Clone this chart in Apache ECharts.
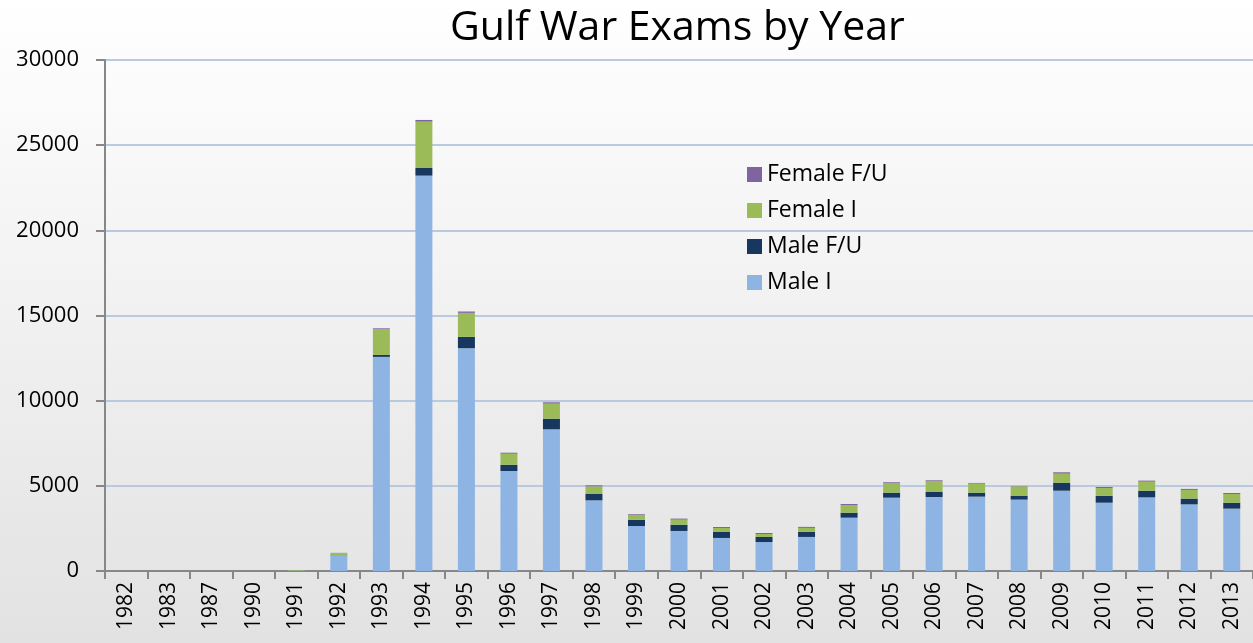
<!DOCTYPE html>
<html>
<head>
<meta charset="utf-8">
<script src="https://cdn.jsdelivr.net/npm/echarts@6/dist/echarts.min.js"></script>
<style>
  html, body { margin: 0; padding: 0; }
  #chart { width: 1253px; height: 643px; }
</style>
</head>
<body>
<div id="chart"></div>
<script>
// 年份
const years = ['1982', '1983', '1987', '1990', '1991', '1992', '1993', '1994', '1995', '1996',
  '1997', '1998', '1999', '2000', '2001', '2002', '2003', '2004', '2005', '2006',
  '2007', '2008', '2009', '2010', '2011', '2012', '2013']

// 各类检查人数
const maleI = [0, 0, 0, 0, 20, 900, 12570, 23210, 13080, 5870, 8320, 4150, 2640, 2350, 1940, 1700,
  2000, 3130, 4305, 4345, 4365, 4190, 4715, 4010, 4325, 3915, 3660]
const maleFU = [0, 0, 0, 0, 0, 15, 115, 450, 665, 370, 625, 370, 370, 370, 350, 295,
  295, 295, 295, 295, 235, 215, 470, 410, 390, 335, 350]
const femaleI = [0, 0, 0, 0, 30, 140, 1525, 2720, 1410, 645, 880, 450, 295, 295, 235, 175,
  235, 450, 550, 625, 530, 570, 530, 450, 530, 510, 510]
const femaleFU = [0, 0, 0, 0, 0, 10, 40, 100, 80, 60, 80, 60, 40, 60, 60, 60,
  60, 60, 60, 60, 40, 20, 80, 60, 60, 60, 60]

const legendNames = ['Female F/U', 'Female I', 'Male F/U', 'Male I']

const font = '"Open Sans", "Liberation Sans", sans-serif'

const chart = echarts.init(document.getElementById('chart'))

const makeSeries = (name, data, color) => ({
  name,
  type: 'bar',
  stack: 'total',
  barWidth: 17,
  data,
  itemStyle: { color }
})

const option = {
  backgroundColor: {
    type: 'linear', x: 0, y: 0, x2: 0, y2: 1,
    colorStops: [
      { offset: 0, color: '#ffffff' },
      { offset: 1, color: '#e2e2e2' }
    ]
  },
  title: {
    text: 'Gulf War Exams by Year',
    left: 445,
    top: 3,
    textStyle: { fontFamily: font, fontSize: 41, fontWeight: 'normal', color: '#000' }
  },
  legend: {
    data: legendNames,
    orient: 'vertical',
    left: 742,
    top: 158,
    itemWidth: 15,
    itemHeight: 15,
    itemGap: 13,
    icon: 'rect',
    textStyle: { fontFamily: font, fontSize: 23, color: '#000', lineHeight: 23 }
  },
  grid: {
    left: 105,
    right: -4,
    top: 60,
    bottom: 72
  },
  xAxis: {
    type: 'category',
    data: years,
    axisLine: { lineStyle: { color: '#878787', width: 2 } },
    axisTick: { show: true, length: 8, lineStyle: { color: '#878787', width: 2 } },
    axisLabel: {
      interval: 0,
      rotate: 90,
      margin: 11,
      fontFamily: font,
      fontSize: 21,
      color: '#000'
    }
  },
  yAxis: {
    type: 'value',
    min: 0,
    max: 30000,
    interval: 5000,
    axisLine: { show: true, lineStyle: { color: '#878787', width: 2 } },
    axisTick: { show: true, length: 9, lineStyle: { color: '#878787', width: 2 } },
    axisLabel: {
      margin: 26,
      fontFamily: font,
      fontSize: 22,
      color: '#000',
      formatter: (v) => String(v)
    },
    splitLine: { lineStyle: { color: '#b9cadf', width: 2 } }
  },
  series: [
    makeSeries('Male I', maleI, '#8eb4e3'),
    makeSeries('Male F/U', maleFU, '#17375e'),
    makeSeries('Female I', femaleI, '#9bbb59'),
    makeSeries('Female F/U', femaleFU, '#8064a2')
  ]
}

chart.setOption(option)
</script>
</body>
</html>
